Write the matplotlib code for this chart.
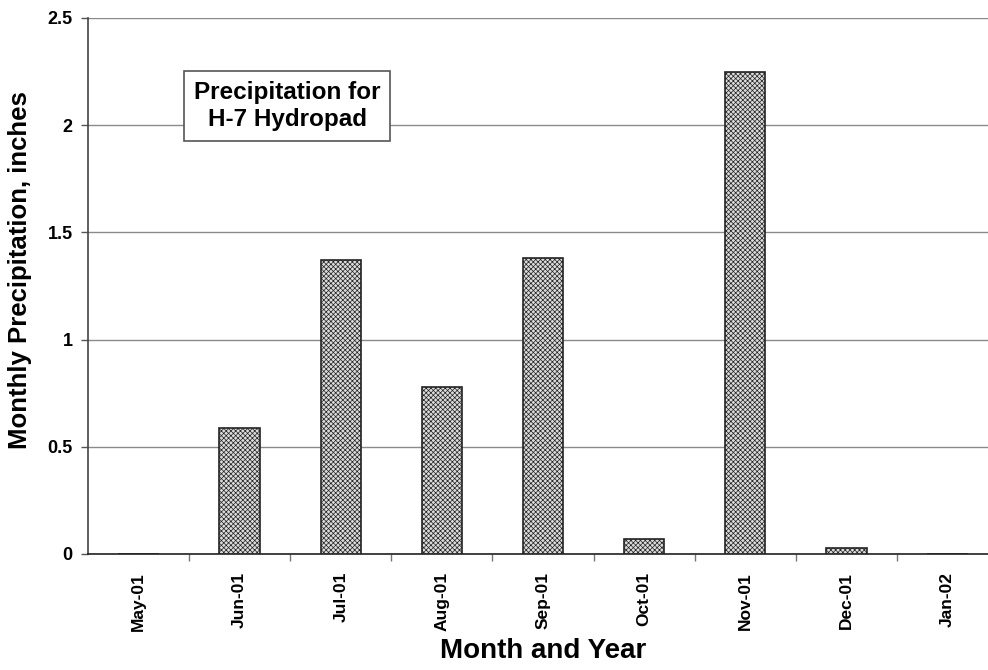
import numpy as np
import matplotlib.pyplot as plt

plt.rcParams['font.family'] = ['Liberation Sans', 'DejaVu Sans']
plt.rcParams['font.weight'] = 'bold'
plt.rcParams['hatch.color'] = '#858585'
plt.rcParams['hatch.linewidth'] = 0.5

# monthly rainfall at the H-7 hydropad
months = ['May-01', 'Jun-01', 'Jul-01', 'Aug-01', 'Sep-01',
          'Oct-01', 'Nov-01', 'Dec-01', 'Jan-02']
precip = [0.0, 0.59, 1.37, 0.78, 1.38, 0.07, 2.25, 0.03, 0.0]
yticks = [0, 0.5, 1, 1.5, 2, 2.5]
ytick_labels = ['0', '0.5', '1', '1.5', '2', '2.5']

fig = plt.figure(figsize=(9.88, 6.7), dpi=100)
ax = fig.add_axes([88/988, 116/670, 910/988, 536/670])

x = np.arange(len(months))
ax.bar(x, precip, width=0.4, facecolor='#dcdcdc', edgecolor='#222222',
       linewidth=1.2, hatch='xxxxxxx', zorder=3)

ax.set_xlim(-0.5, len(months) - 0.5)
ax.set_ylim(0, 2.5)
ax.set_yticks(yticks)
ax.set_yticklabels(ytick_labels, fontsize=13, fontweight='bold')
ax.yaxis.grid(True, color='#8a8a8a', linewidth=1.0, zorder=0)

ax.set_xticks(x)
ax.set_xticklabels(months, rotation=90, fontsize=12.5, fontweight='bold')
ax.tick_params(axis='x', which='major', length=0, pad=13)
ax.set_xticks(x[:-1] + 0.5, minor=True)
ax.tick_params(axis='x', which='minor', length=5, color='#777777', width=1)
ax.tick_params(axis='y', length=5, color='#555555', width=1, pad=6)

for s in ['top', 'right']:
    ax.spines[s].set_visible(False)
ax.spines['left'].set_color('#444444')
ax.spines['left'].set_linewidth(1.2)
ax.spines['bottom'].set_color('#222222')
ax.spines['bottom'].set_linewidth(1.2)

ax.set_ylabel('Monthly Precipitation, inches', fontsize=18.5, fontweight='bold')
ax.yaxis.set_label_coords(-0.061, 0.53)
ax.set_xlabel('Month and Year', fontsize=20, fontweight='bold', labelpad=5)

fig.text(287/988, 1 - 106/670, 'Precipitation for\nH-7 Hydropad', ha='center', va='center',
         fontsize=17.5, fontweight='bold', linespacing=1.2,
         bbox=dict(boxstyle='square,pad=0.4', facecolor='white', edgecolor='#555555', linewidth=1.2),
         zorder=5)

fig.savefig('out.png', dpi=100)
